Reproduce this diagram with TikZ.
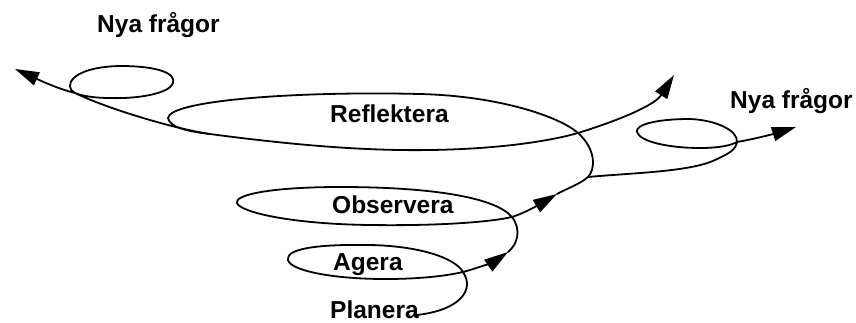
\documentclass[tikz,border=0pt]{standalone}
\usepackage{fontspec}
\setmainfont{Liberation Sans}
\usetikzlibrary{arrows.meta}
\begin{document}
\begin{tikzpicture}[x=1pt,y=-1pt,
  lbl/.style={font=\bfseries\fontsize{24.5}{28}\selectfont, inner sep=0pt, anchor=base west, text=black},
  spiral/.style={line width=1.8pt, line cap=round, line join=round, draw=black},
  tip/.style={-{Triangle[length=24pt,width=14pt]}}]
\fill[white] (0,0) rectangle (856,322);
\useasboundingbox (0,0) rectangle (856,322);

% labels
\node[lbl] (nyaL) at (97,32) {Nya frågor};
\node[lbl] (nyaR) at (730,108) {Nya frågor};
\node[lbl] (refl) at (330,122) {Reflektera};
\node[lbl] (obs) at (332,213) {Observera};
\node[lbl] (age) at (333,270) {Agera};
\node[lbl] (pla) at (330,318) {Planera};

% key points
\coordinate (P0) at (417,315);
\coordinate (C1) at (463,272);
\coordinate (T1) at (508,252);
\coordinate (C2) at (512,217);
\coordinate (T2) at (557,194);
\coordinate (J)  at (588,177);
\coordinate (C3) at (578,133);
\coordinate (T3) at (674,75);
\coordinate (L3) at (168,118);
\coordinate (M)  at (210,134);
\coordinate (C5) at (75,93);
\coordinate (T5) at (15,69);
\coordinate (C4) at (737,142);
\coordinate (T4) at (796,127);

% Planera -> Agera loop
\draw[spiral,tip] (P0) .. controls (460,310) and (475,290) .. (C1)
  .. controls (455,258) and (420,246) .. (370,245)
  .. controls (310,244) and (286,250) .. (288,260)
  .. controls (290,270) and (330,279) .. (385,279)
  .. controls (425,279) and (450,275) .. (C1)
  .. controls (478,268) and (495,261) .. (T1);

% Observera loop
\draw[spiral,tip] (T1) .. controls (517,245) and (522,230) .. (C2)
  .. controls (495,197) and (430,187) .. (340,187)
  .. controls (270,187) and (234,195) .. (237,203)
  .. controls (240,212) and (290,224) .. (370,225)
  .. controls (440,226) and (490,222) .. (C2)
  .. controls (525,213) and (540,204) .. (T2);

% Reflektera loop
\draw[spiral,tip] (T2) .. controls (568,188) and (580,184) .. (J)
  .. controls (595,170) and (597,150) .. (C3)
  .. controls (560,117) and (500,96) .. (420,94)
  .. controls (300,91) and (170,100) .. (L3)
  .. controls (170,127) and (185,131) .. (M)
  .. controls (300,146) and (370,151) .. (430,150)
  .. controls (500,149) and (550,141) .. (C3)
  .. controls (620,120) and (655,105) .. (T3);

% left branch: Nya frågor
\draw[spiral,tip] (M) .. controls (180,130) and (110,110) .. (C5)
  .. controls (63,87) and (70,67) .. (120,66)
  .. controls (160,66) and (176,74) .. (173,83)
  .. controls (170,93) and (140,99) .. (110,98)
  .. controls (95,98) and (82,96) .. (C5)
  .. controls (55,88) and (35,78) .. (T5);

% right branch: Nya frågor
\draw[spiral,tip] (J) .. controls (630,173) and (690,172) .. (715,160)
  .. controls (728,154) and (736,150) .. (C4)
  .. controls (738,130) and (715,120) .. (690,119)
  .. controls (655,119) and (635,125) .. (637,132)
  .. controls (640,142) and (670,148) .. (700,148)
  .. controls (720,148) and (732,145) .. (C4)
  .. controls (760,138) and (780,132) .. (T4);
\end{tikzpicture}
\end{document}
